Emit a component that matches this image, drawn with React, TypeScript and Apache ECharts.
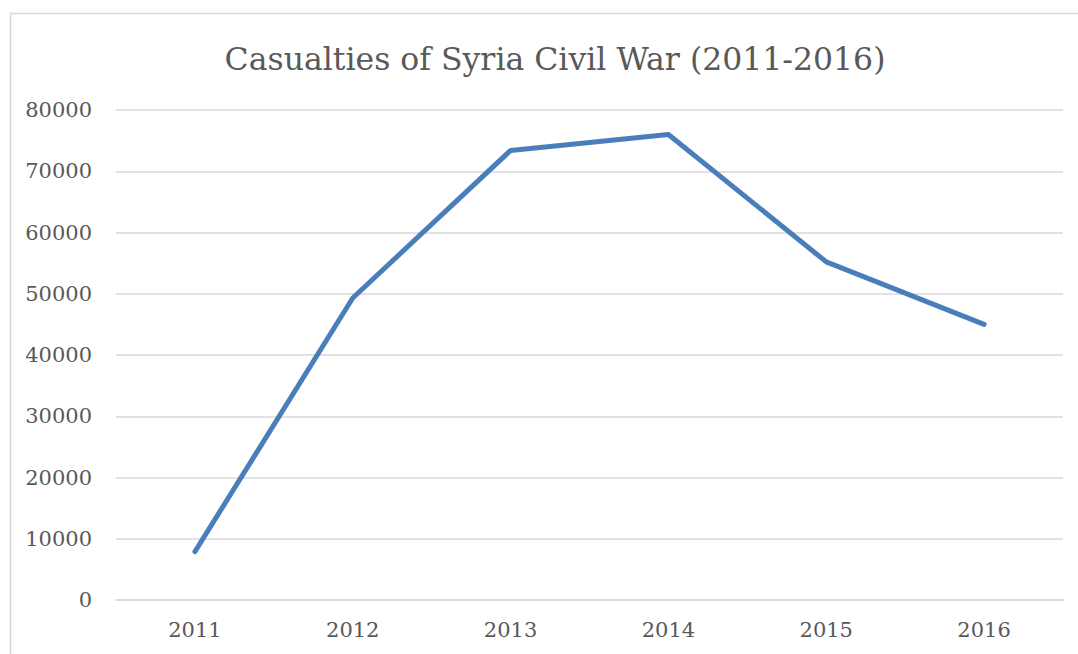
import React, { useEffect, useRef } from "react";
import * as echarts from "echarts";

const years = ["2011", "2012", "2013", "2014", "2015", "2016"];
const casualties = [7900, 49300, 73400, 76000, 55200, 45000];
const yMin = 0;
const yMax = 80000;
const yStep = 10000;

const TEXT = "#595959";
const GRID = "#d9d9d9";
const LINE = "#4a7ebb";
const FONT = "'DejaVu Serif', 'Liberation Serif', serif";

export default function App() {
  const ref = useRef<HTMLDivElement>(null);

  useEffect(() => {
    document.body.style.margin = "0";
    const chart = echarts.init(ref.current!, undefined, { renderer: "svg" });
    chart.setOption({
      animation: false,
      backgroundColor: "#ffffff",
      title: {
        text: "Casualties of Syria Civil War (2011-2016)",
        left: 550,
        top: 38,
        textAlign: "center",
        textStyle: { color: TEXT, fontFamily: FONT, fontSize: 31.5, fontWeight: "normal" },
      },
      graphic: [
        {
          type: "rect",
          shape: { x: 10.5, y: 13.5, width: 1200, height: 800 },
          style: { fill: "none", stroke: GRID, lineWidth: 1.5 },
          silent: true,
        },
      ],
      grid: { left: 116, right: 15, top: 110, bottom: 54 },
      xAxis: {
        type: "category",
        data: years,
        boundaryGap: true,
        axisLine: { show: true, lineStyle: { color: GRID, width: 1.5 } },
        axisTick: { show: false },
        axisLabel: { color: TEXT, fontFamily: FONT, fontSize: 21, margin: 19 },
      },
      yAxis: {
        type: "value",
        min: yMin,
        max: yMax,
        interval: yStep,
        axisLine: { show: false },
        axisTick: { show: false },
        axisLabel: {
          color: TEXT,
          fontFamily: FONT,
          fontSize: 21,
          margin: 24,
          formatter: (v: number) => String(v),
        },
        splitLine: { lineStyle: { color: GRID, width: 1.5 } },
      },
      series: [
        {
          type: "line",
          data: casualties,
          symbol: "none",
          lineStyle: { color: LINE, width: 5, cap: "round", join: "round" },
        },
      ],
    });
    return () => chart.dispose();
  }, []);

  return (
    <div
      ref={ref}
      style={{ position: "absolute", left: 0, top: 0, width: 1078, height: 654 }}
    />
  );
}
